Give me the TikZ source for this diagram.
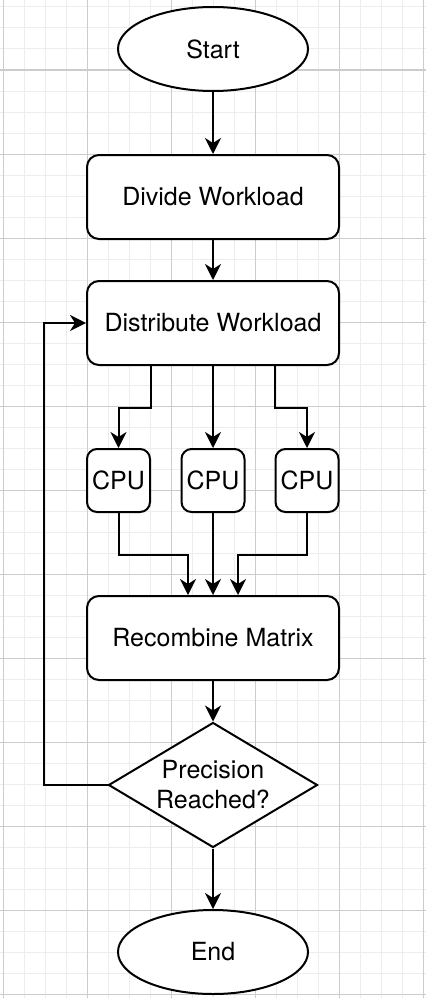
\documentclass[tikz,border=0pt]{standalone}
\usepackage{fontspec}
\setmainfont{TeX Gyre Heros}
\usetikzlibrary{shapes.geometric,arrows.meta}

\begin{document}
\begin{tikzpicture}[
  x=1pt, y=-1pt,
  inner sep=0pt,
  font=\fontsize{25}{30}\selectfont,
  box/.style={
    line width=2pt,
    draw=black,
    fill=white,
    rounded corners=12pt,
    minimum height=84pt,
    minimum width=252pt
  },
  cpubox/.style={
    line width=2pt,
    draw=black,
    fill=white,
    rounded corners=10pt,
    minimum size=63pt
  },
  terminal/.style={
    ellipse,
    line width=2pt,
    draw=black,
    fill=white,
    minimum height=84pt,
    minimum width=190pt
  },
  decision/.style={
    diamond,
    aspect=1.672,
    line width=2pt,
    draw=black,
    fill=white,
    align=center,
    minimum height=125pt,
    minimum width=209pt
  },
  a/.style={
    -{Stealth[length=16pt,width=16pt,inset=5pt]},
    line width=2pt
  }
  ]

  % grid
  \useasboundingbox (0,0) rectangle (426,998);
  \fill[white] (0,0) rectangle (426,998);
  \foreach \x in {3,24,...,423}
    \draw[line width=1pt,black!7] (\x,0) -- (\x,998);
  \foreach \y in {7,28,...,994}
    \draw[line width=1pt,black!7] (0,\y) -- (426,\y);
  \foreach \x in {3,87,...,423}
    \draw[line width=1pt,black!20] (\x,0) -- (\x,998);
  \foreach \y in {70,154,...,994}
    \draw[line width=1pt,black!20] (0,\y) -- (426,\y);

  \node (start) [terminal] at (213,49) {Start};
  \node (divide) [box] at (213,197) {Divide Workload};
  \node (distribute) [box] at (213,323) {Distribute Workload};
  \node (cpu1) [cpubox] at (118.5,480.5) {CPU};
  \node (cpu2) [cpubox] at (213,480.5) {CPU};
  \node (cpu3) [cpubox] at (307,480.5) {CPU};
  \node (recombine) [box] at (213,638) {Recombine Matrix};
  \node (precision) [decision] at (213,785) {Precision\\Reached?};
  \node (end) [terminal] at (213,952) {End};

  \draw [a] (start) -- (divide);
  \draw [a] (divide) -- (distribute);
  \draw [a] (cpu1.east |- distribute.south) -- ++(0,42) -| (cpu1.north);
  \draw [a] (distribute) -- (cpu2);
  \draw [a] (cpu3.west |- distribute.south) -- ++(0,42) -| (cpu3.north);
  \draw [a] (cpu1.south) -- ++(0,42) -| ([xshift=-25pt]recombine.north);
  \draw [a] (cpu2) -- (recombine);
  \draw [a] (cpu3.south) -- ++(0,42) -| ([xshift=25pt]recombine.north);
  \draw [a] (recombine) -- (precision);
  \draw [a] (precision) -- (end);
  \draw [a] (precision.west) -- ++(-64,0) |- (distribute.west);
\end{tikzpicture}
\end{document}
